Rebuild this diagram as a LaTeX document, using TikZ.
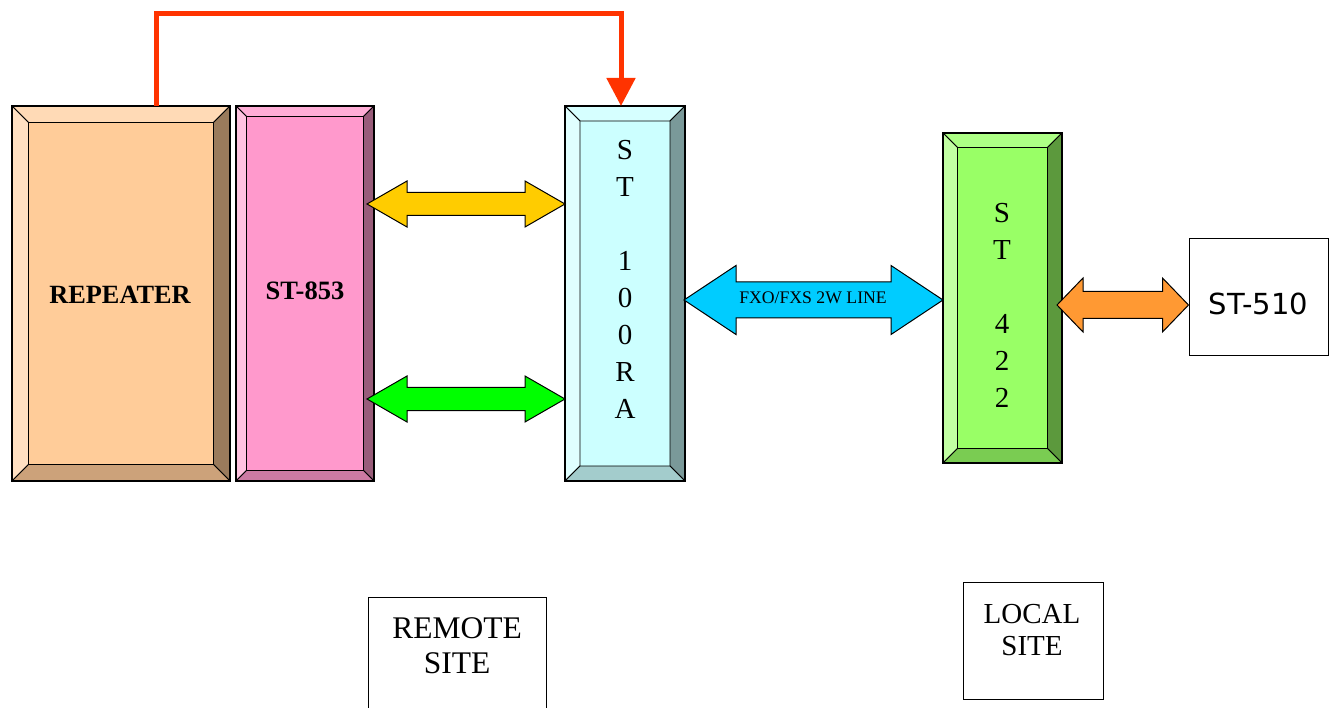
\documentclass[tikz,border=0pt]{standalone}
\usepackage{fontspec}
\setmainfont{Liberation Serif}
\newfontfamily\sansA{DejaVu Sans}
\usetikzlibrary{calc,arrows.meta}
% bevel colours: C centre, T top, L left, R right, B bottom
\definecolor{repC}{HTML}{FFCC99}\definecolor{repT}{HTML}{FFDAB6}\definecolor{repL}{HTML}{FFE0C2}\definecolor{repR}{HTML}{9A7B5C}\definecolor{repB}{HTML}{CCA27A}
\definecolor{pnkC}{HTML}{FF99CC}\definecolor{pnkT}{HTML}{FFADD6}\definecolor{pnkL}{HTML}{FFC2E0}\definecolor{pnkR}{HTML}{995C7A}\definecolor{pnkB}{HTML}{CC7AA3}
\definecolor{cynC}{HTML}{CCFFFF}\definecolor{cynT}{HTML}{D6FFFF}\definecolor{cynL}{HTML}{E0FFFF}\definecolor{cynR}{HTML}{7A9999}\definecolor{cynB}{HTML}{A3CCCC}
\definecolor{grnC}{HTML}{99FF66}\definecolor{grnT}{HTML}{ADFF85}\definecolor{grnL}{HTML}{C2FFA3}\definecolor{grnR}{HTML}{5C993D}\definecolor{grnB}{HTML}{7ACC52}
\definecolor{arYel}{HTML}{FFCC00}
\definecolor{arGrn}{HTML}{00FF00}
\definecolor{arCyn}{HTML}{00CCFF}
\definecolor{arOrg}{HTML}{FF9933}
\definecolor{redline}{HTML}{FF3300}
\newcommand\bevbox[7]{% name, x1, y1, x2, y2, bevel, colour prefix
  \node[draw, line width=1.2pt, inner sep=0pt, outer sep=0pt, anchor=north west,
        minimum width={(#4-#2)*1pt}, minimum height={(#5-#3)*1pt}, fill=#7C] (#1) at (#2,#3) {};
  \filldraw[bev, fill=#7T] (#2,#3) -- (#4,#3) -- ({#4-#6},{#3+#6}) -- ({#2+#6},{#3+#6}) -- cycle;
  \filldraw[bev, fill=#7L] (#2,#3) -- ({#2+#6},{#3+#6}) -- ({#2+#6},{#5-#6}) -- (#2,#5) -- cycle;
  \filldraw[bev, fill=#7R] (#4,#3) -- (#4,#5) -- ({#4-#6},{#5-#6}) -- ({#4-#6},{#3+#6}) -- cycle;
  \filldraw[bev, fill=#7B] (#2,#5) -- (#4,#5) -- ({#4-#6},{#5-#6}) -- ({#2+#6},{#5-#6}) -- cycle;
  \draw[line width=1.2pt] (#1.north west) rectangle (#1.south east);
}
\newcommand\dblarr[6]{% from, to, head length, head half height, shaft half height, colour
  \filldraw[fill=#6, line width=1pt, line join=miter] let \p1=(#1), \p2=(#2) in
   (\x1,\y1) -- ({\x1+#3pt},{\y1+#4pt}) -- ({\x1+#3pt},{\y1+#5pt}) -- ({\x2-#3pt},{\y2+#5pt})
   -- ({\x2-#3pt},{\y2+#4pt}) -- (\x2,\y2) -- ({\x2-#3pt},{\y2-#4pt}) -- ({\x2-#3pt},{\y2-#5pt})
   -- ({\x1+#3pt},{\y1-#5pt}) -- ({\x1+#3pt},{\y1-#4pt}) -- cycle;
}
\begin{document}
\begin{tikzpicture}[x=1pt,y=-1pt,
  bev/.style={line width=0.8pt, line join=miter},
  plainbox/.style={draw, line width=1pt, inner sep=0pt, fill=white},
  stack/.style={anchor=north, inner sep=0pt, align=center, font=\fontsize{29}{37}\selectfont},
  sitetext/.style={anchor=north, inner sep=0pt, align=center},
  redarrow/.style={draw=redline, line width=5pt, line join=miter, -{Triangle[width=28pt,length=28pt]}, redline}]
\useasboundingbox (0,0) rectangle (1333,708);

% bevelled units
\bevbox{rep}{12}{106}{230}{481}{16.5}{rep}
\bevbox{s853}{236}{106}{374}{481}{10.5}{pnk}
\bevbox{s100}{565}{106}{685}{481}{15}{cyn}
\bevbox{s422}{943}{133}{1062}{463}{14.5}{grn}

\node[inner sep=0pt, font=\fontsize{26.3}{30}\selectfont\bfseries] (repT) at (120,295) {REPEATER};
\node[inner sep=0pt, font=\fontsize{26.5}{30}\selectfont\bfseries] (s853T) at (305,291) {ST-853};
\node[stack] (s100T) at (625,140) {S\\T\\[37pt]1\\0\\0\\R\\A};
\node[stack] (s422T) at (1002,203) {S\\T\\[37pt]4\\2\\2};

% plain boxes
\node[plainbox, minimum width=139pt, minimum height=117pt] (s510) at (1258.5,297.5) {};
\node[inner sep=0pt, font=\sansA\fontsize{29}{32}\selectfont] (s510T) at ([yshift=-6pt]s510.center) {ST-510};

\node[plainbox, anchor=north west, minimum width=178pt, minimum height=130pt] (remote) at (368,597) {};
\node[sitetext, font=\fontsize{31.5}{35}\selectfont] (remoteT) at (457,617) {REMOTE\\SITE};

\node[plainbox, anchor=north west, minimum width=140pt, minimum height=117pt] (local) at (963,582) {};
\node[sitetext, font=\fontsize{29}{32}\selectfont] (localT) at (1032,604) {LOCAL\\SITE};

% double arrows
\dblarr{$(s853.east)+(-7,-89.5)$}{$(s100.west)+(0,-89.5)$}{40}{23}{11.5}{arYel}
\dblarr{$(s853.east)+(-7,105.5)$}{$(s100.west)+(0,105.5)$}{40}{23}{11.5}{arGrn}
\dblarr{$(s100.east)+(-1,6.5)$}{$(s422.west)+(0,2)$}{52}{34.5}{18}{arCyn}
\dblarr{$(s422.east)+(-5,7)$}{$(s510.west)+(0,7.5)$}{26}{27}{13.5}{arOrg}
\node[inner sep=0pt, font=\fontsize{17.7}{20}\selectfont] (lineT) at (813,298) {FXO/FXS 2W LINE};

% red feedback connector
\draw[redarrow] ([xshift=35pt]rep.north) -- ++(0,-92) -| ([xshift=-4pt]s100.north);
\end{tikzpicture}
\end{document}
